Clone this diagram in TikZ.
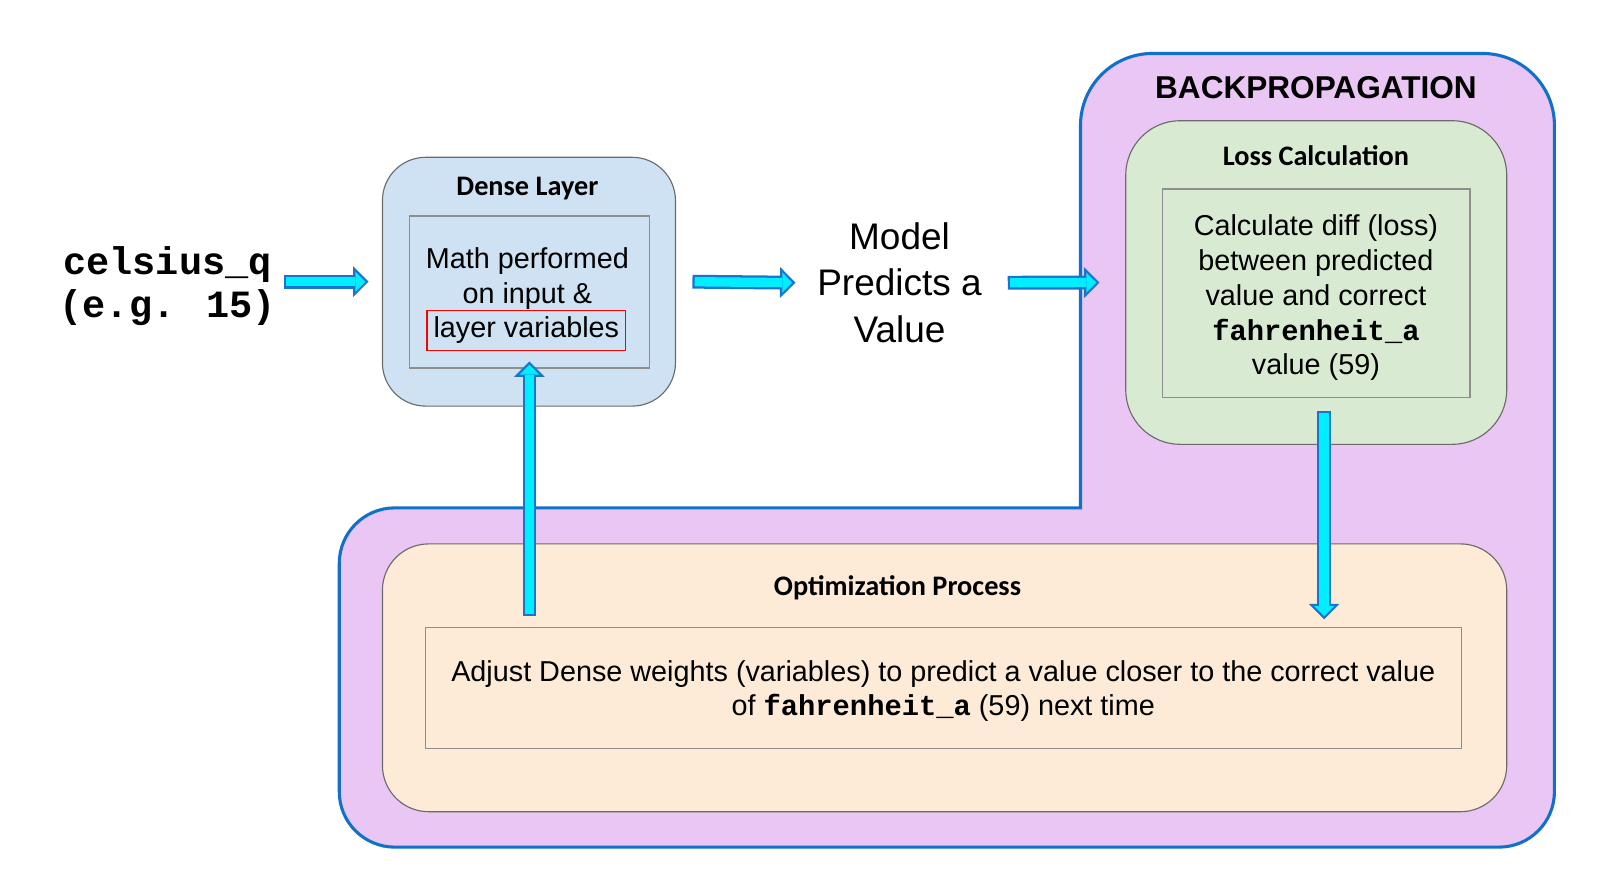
\documentclass[tikz,border=0pt]{standalone}
\usepackage{fontspec}
\setmainfont{Liberation Sans}
\newfontfamily\titlefont{Carlito}
\newfontfamily\codefont{Liberation Mono}
\usetikzlibrary{arrows.meta}

\definecolor{bpfill}{HTML}{E9C6F3}
\definecolor{bpline}{HTML}{1170C8}
\definecolor{densefill}{HTML}{CFE2F3}
\definecolor{lossfill}{HTML}{D9EAD3}
\definecolor{optfill}{HTML}{FDEBD7}
\definecolor{arrowcyan}{HTML}{00EEFF}
\definecolor{arrowblue}{HTML}{1A74CC}
\definecolor{boxline}{HTML}{6B6B6B}
\definecolor{innerline}{HTML}{8E8E8E}

\newcommand\cvar[1]{{\codefont\bfseries #1}}

\tikzset{
  outerbox/.style={draw=boxline, line width=1.1pt, inner sep=0pt},
  innerbox/.style={draw=innerline, line width=1.3pt, inner sep=0pt},
  boxtitle/.style={font=\titlefont\bfseries\fontsize{27.5}{33}\selectfont, inner sep=0pt},
  bodytext/.style={font=\fontsize{28}{34}\selectfont, align=center, inner sep=0pt},
  arrowrim/.style={draw=arrowblue, line width=13.5pt,
    -{Triangle[length=15pt,width=30pt,line width=0pt]}},
  arrowcore/.style={draw=arrowcyan, line width=9.1pt,
    -{Triangle[length=9.7pt,width=19.4pt,line width=0pt]},
    shorten >=3.1pt, shorten <=2.2pt},
}

\begin{document}
\begin{tikzpicture}[x=1pt,y=-1pt]
\useasboundingbox (0,0) rectangle (1568,854);

% backpropagation region (L-shape)
\draw[draw=bpline, fill=bpfill, line width=3pt]
  (700,494) -- (1051,494) -- (1051,300) [rounded corners=70pt] -- (1051,52)
  -- (1512,52) -- (1512,600) [rounded corners=54pt] -- (1512,824)
  -- (330,824) -- (330,494) -- cycle;
\node[font=\bfseries\fontsize{30.7}{36}\selectfont, inner sep=0pt] (bptitle) at (1280,85) {BACKPROPAGATION};

% dense layer
\node[outerbox, fill=densefill, rounded corners=42pt, minimum width=285pt, minimum height=242pt] (dense) at (514.5,274) {};
\node[innerbox, fill=densefill, minimum width=234pt, minimum height=148pt] (densein) at (515,284) {};
\node[boxtitle] (densetitle) at (513,183) {Dense Layer};
\node[bodytext] (densetxt) at (513,271) {Math performed\\on input \&};
\node[bodytext, draw=red, line width=1.6pt, minimum width=193pt, minimum height=39pt] (layervars) at (512,321.5) {layer variables};

% loss calculation
\node[outerbox, fill=lossfill, rounded corners=53pt, minimum width=370.6pt, minimum height=314.8pt] (loss) at (1280.3,274.8) {};
\node[innerbox, fill=lossfill, minimum width=299pt, minimum height=202.8pt] (lossin) at (1280.5,285.4) {};
\node[boxtitle] (losstitle) at (1280,151.5) {Loss Calculation};
\node[bodytext] (losstxt) at (1280,289.5) {Calculate diff (loss)\\between predicted\\value and correct\\\cvar{fahrenheit\_a}\\value (59)};

% optimization process
\node[outerbox, fill=optfill, rounded corners=45pt, minimum width=1093.6pt, minimum height=260.5pt] (opt) at (918.8,659.3) {};
\node[innerbox, fill=optfill, minimum width=1007.8pt, minimum height=117.5pt] (optin) at (917.9,669.3) {};
\node[boxtitle] (opttitle) at (873,572) {Optimization Process};
\node[bodytext, font=\fontsize{28}{33}\selectfont] (opttxt) at (917.5,672.5) {Adjust Dense weights (variables) to predict a value closer to the correct value\\of \cvar{fahrenheit\_a} (59) next time};

% input and prediction
\node[font=\codefont\bfseries\fontsize{37.5}{42}\selectfont, align=center, inner sep=0pt] (cel) at (163,278) {celsius\_q\\(e.g. 15)};
\node[font=\fontsize{36}{45}\selectfont, align=center, inner sep=0pt] (pred) at (875,275) {Model\\Predicts a\\Value};

% block arrows
\path (cel.east |- dense.west) ++(8,0) coordinate (a1s);
\coordinate (a1t) at ([xshift=-13pt]dense.west);
\coordinate (a2s) at ([xshift=16pt]dense.east);
\coordinate (a2t) at ([xshift=-21pt]pred.west);
\coordinate (a3s) at ([xshift=25pt]pred.east);
\coordinate (a3t) at ([xshift=-25pt]loss.west);
\path (lossin.south) ++(7.5,12) coordinate (a4s);
\path (a4s |- optin.north) ++(0,-7.5) coordinate (a4t);
\path (densein.south |- optin.north) ++(0,-10.5) coordinate (a5s);
\path (densein.south) ++(0,-7) coordinate (a5t);
\foreach \s/\t in {a1s/a1t,a2s/a2t,a3s/a3t,a4s/a4t,a5s/a5t}{
  \draw[arrowrim] (\s) -- (\t);
  \draw[arrowcore] (\s) -- (\t);
}

\end{tikzpicture}
\end{document}
